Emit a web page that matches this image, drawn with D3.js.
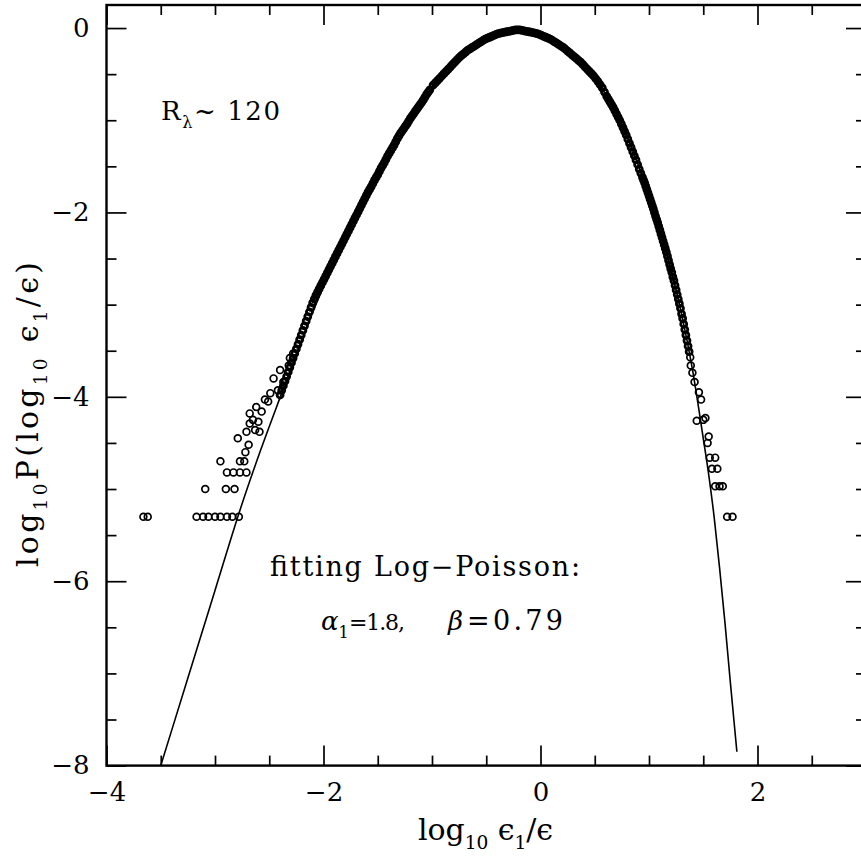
<!DOCTYPE html>
<html>
<head>
<meta charset="utf-8">
<script src="https://cdn.jsdelivr.net/npm/d3@7"></script>
<style>
  html, body { margin: 0; background: #fff; }
  svg { display: block; }
  text { font-family: "DejaVu Serif", "Liberation Serif", serif; fill: #000; }
</style>
</head>
<body>
<svg id="chart" width="861" height="856"></svg>
<script>
// tick positions
const xMajor = [-4, -2, 0, 2];
const xMinor = [-3.5, -3, -2.5, -1.5, -1, -0.5, 0.5, 1, 1.5, 2.5];
const yMajor = [0, -2, -4, -6, -8];
const yMinor = [-0.5, -1, -1.5, -2.5, -3, -3.5, -4.5, -5, -5.5, -6.5, -7, -7.5];

// log-Poisson fit (solid line), [log10 eps_l/eps, log10 P]
const fitCurve = [
  [-3.50, -8.0], [-3.25, -7.05], [-3.0, -6.1], [-2.77, -5.23], [-2.58, -4.58], [-2.385, -3.96],
  [-2.2, -3.38], [-2.0, -2.8], [-1.8, -2.27], [-1.6, -1.81], [-1.4, -1.39], [-1.2, -1.0],
  [-1.0, -0.65], [-0.8, -0.37], [-0.6, -0.18], [-0.4, -0.07], [-0.2, -0.02], [0.0, -0.07],
  [0.2, -0.2], [0.4, -0.4], [0.6, -0.72], [0.8, -1.18], [1.0, -1.82], [1.1, -2.19],
  [1.2, -2.61], [1.3, -3.1], [1.4, -3.7], [1.5, -4.45], [1.55, -4.84], [1.6, -5.3],
  [1.65, -5.85], [1.7, -6.45], [1.75, -7.1], [1.81, -7.85]
];

// measured pdf, the dense core of the distribution
const coreBand = [
  [-2.40, -3.98], [-2.37, -3.88], [-2.34, -3.78], [-2.31, -3.68], [-2.28, -3.58], [-2.25, -3.48],
  [-2.22, -3.38], [-2.19, -3.28], [-2.16, -3.18], [-2.13, -3.08], [-2.10, -2.98], [-2.07, -2.90],
  [-2.04, -2.83], [-2.01, -2.76], [-1.98, -2.69], [-1.95, -2.62], [-1.92, -2.55], [-1.89, -2.48],
  [-1.86, -2.41], [-1.83, -2.34], [-1.80, -2.27], [-1.77, -2.20], [-1.74, -2.13], [-1.71, -2.06],
  [-1.68, -1.99], [-1.65, -1.92], [-1.62, -1.85], [-1.59, -1.78], [-1.56, -1.72], [-1.53, -1.65],
  [-1.50, -1.59], [-1.47, -1.52], [-1.44, -1.46], [-1.41, -1.39], [-1.38, -1.33], [-1.35, -1.27],
  [-1.32, -1.20], [-1.29, -1.14], [-1.26, -1.09], [-1.23, -1.04], [-1.20, -0.98], [-1.17, -0.93],
  [-1.14, -0.88], [-1.11, -0.83], [-1.08, -0.78], [-1.05, -0.72], [-1.02, -0.67], [-0.99, -0.62],
  [-0.95, -0.57], [-0.91, -0.52], [-0.87, -0.47], [-0.83, -0.42], [-0.79, -0.37], [-0.75, -0.32],
  [-0.71, -0.28], [-0.67, -0.24], [-0.63, -0.21], [-0.59, -0.18], [-0.55, -0.15], [-0.51, -0.12],
  [-0.47, -0.10], [-0.43, -0.08], [-0.39, -0.06], [-0.35, -0.05], [-0.31, -0.04], [-0.27, -0.03],
  [-0.23, -0.02], [-0.19, -0.02], [-0.15, -0.03], [-0.11, -0.04], [-0.07, -0.05], [-0.03, -0.06],
  [0.01, -0.08], [0.05, -0.10], [0.09, -0.12], [0.13, -0.15], [0.17, -0.18], [0.21, -0.21],
  [0.25, -0.25], [0.29, -0.29], [0.33, -0.33], [0.37, -0.37], [0.41, -0.42], [0.45, -0.47],
  [0.49, -0.52], [0.53, -0.58], [0.57, -0.65], [0.61, -0.74], [0.64, -0.80], [0.67, -0.86],
  [0.70, -0.93], [0.73, -1.00], [0.76, -1.08], [0.79, -1.16], [0.82, -1.25], [0.85, -1.34],
  [0.88, -1.43], [0.91, -1.53], [0.94, -1.62], [0.96, -1.68], [0.98, -1.75], [1.00, -1.82],
  [1.02, -1.89], [1.04, -1.96], [1.06, -2.04], [1.08, -2.11], [1.10, -2.19], [1.12, -2.27],
  [1.14, -2.35], [1.16, -2.43], [1.18, -2.52], [1.20, -2.61], [1.21, -2.65], [1.22, -2.70],
  [1.23, -2.74], [1.24, -2.79], [1.25, -2.84], [1.26, -2.89], [1.27, -2.94], [1.28, -2.99],
  [1.29, -3.04], [1.30, -3.10], [1.31, -3.15], [1.32, -3.21], [1.33, -3.27], [1.34, -3.33],
  [1.35, -3.39], [1.36, -3.45], [1.37, -3.51]
];

// second, interleaved set of bins along the core
const coreInterleaved = [
  [-2.385, -3.93], [-2.355, -3.83], [-2.325, -3.73], [-2.295, -3.63], [-2.265, -3.53], [-2.235, -3.43],
  [-2.205, -3.33], [-2.175, -3.23], [-2.145, -3.13], [-2.115, -3.03], [-2.085, -2.94], [-2.055, -2.865],
  [-2.025, -2.795], [-1.995, -2.725], [-1.965, -2.655], [-1.935, -2.585], [-1.905, -2.515], [-1.875, -2.445],
  [-1.845, -2.375], [-1.815, -2.305], [-1.785, -2.235], [-1.755, -2.165], [-1.725, -2.095], [-1.695, -2.025],
  [-1.665, -1.955], [-1.635, -1.885], [-1.605, -1.815], [-1.575, -1.75], [-1.545, -1.685], [-1.515, -1.62],
  [-1.485, -1.555], [-1.455, -1.49], [-1.425, -1.425], [-1.395, -1.36], [-1.365, -1.30], [-1.335, -1.235],
  [-1.305, -1.17], [-1.275, -1.115], [-1.245, -1.065], [-1.215, -1.01], [-1.185, -0.955], [-1.155, -0.905],
  [-1.125, -0.855], [-1.095, -0.805], [-1.065, -0.75], [-1.035, -0.695],
  [-0.97, -0.595], [-0.93, -0.545], [-0.89, -0.495], [-0.85, -0.445], [-0.81, -0.395], [-0.77, -0.345],
  [-0.73, -0.30], [-0.69, -0.26], [-0.65, -0.225], [-0.61, -0.195], [-0.57, -0.165], [-0.53, -0.135],
  [-0.49, -0.11], [-0.45, -0.09], [-0.41, -0.07], [-0.37, -0.055], [-0.33, -0.045], [-0.29, -0.035],
  [-0.25, -0.025], [-0.21, -0.02], [-0.17, -0.025], [-0.13, -0.035], [-0.09, -0.045], [-0.05, -0.055],
  [-0.01, -0.07], [0.03, -0.09], [0.07, -0.11], [0.11, -0.135], [0.15, -0.165], [0.19, -0.195],
  [0.23, -0.23], [0.27, -0.27], [0.31, -0.31], [0.35, -0.35], [0.39, -0.395], [0.43, -0.445],
  [0.47, -0.495], [0.51, -0.55], [0.55, -0.615], [0.59, -0.695],
  [0.625, -0.77], [0.655, -0.83], [0.685, -0.895], [0.715, -0.965], [0.745, -1.04], [0.775, -1.12],
  [0.805, -1.205], [0.835, -1.295], [0.865, -1.385], [0.895, -1.48], [0.925, -1.575], [0.95, -1.65],
  [0.97, -1.715], [0.99, -1.785], [1.01, -1.855], [1.03, -1.925], [1.05, -2.00], [1.07, -2.075],
  [1.09, -2.15], [1.11, -2.23], [1.13, -2.31], [1.15, -2.39], [1.17, -2.475], [1.19, -2.565]
];

// sparse tails where counts are low
const leftTail = [
  [-2.28, -3.53], [-2.31, -3.58], [-2.32, -3.66], [-2.40, -3.71], [-2.46, -3.80], [-2.37, -3.84],
  [-2.42, -3.93], [-2.49, -3.96], [-2.54, -4.03], [-2.51, -4.05], [-2.62, -4.11], [-2.68, -4.18],
  [-2.57, -4.16], [-2.65, -4.25], [-2.60, -4.27], [-2.68, -4.29], [-2.71, -4.38], [-2.63, -4.36],
  [-2.59, -4.38], [-2.79, -4.45], [-2.69, -4.52], [-2.72, -4.60], [-2.95, -4.70], [-2.77, -4.70],
  [-2.73, -4.70], [-2.89, -4.82], [-2.83, -4.82], [-2.77, -4.82], [-2.71, -4.82], [-3.09, -5.00],
  [-2.90, -5.00], [-2.82, -5.00], [-3.66, -5.30], [-3.62, -5.30], [-3.17, -5.30], [-3.11, -5.30],
  [-3.06, -5.30], [-3.00, -5.30], [-2.95, -5.30], [-2.89, -5.30], [-2.84, -5.30], [-2.78, -5.30]
];
const rightTail = [
  [1.38, -3.57], [1.385, -3.66], [1.40, -3.74], [1.42, -3.84], [1.46, -3.95], [1.48, -4.03],
  [1.44, -4.26], [1.50, -4.25], [1.52, -4.23], [1.55, -4.43], [1.54, -4.50], [1.56, -4.66],
  [1.61, -4.66], [1.58, -4.78], [1.63, -4.78], [1.61, -4.97], [1.65, -4.97], [1.68, -4.97],
  [1.72, -5.30], [1.77, -5.30]
];

const svg = d3.select('#chart');
const x = d3.scaleLinear().domain([-4, 3]).range([106.5, 866]);
const y = d3.scaleLinear().domain([-8, 0.25]).range([765.6, 5]);

svg.append('defs').append('clipPath').attr('id', 'plot')
  .append('rect').attr('x', x(-4)).attr('y', y(0.25)).attr('width', x(3) - x(-4)).attr('height', y(-8) - y(0.25));

// inward ticks on all four sides; labels only bottom and left
function side(axis, transform, values, size, labels, pad) {
  const g = svg.append('g').attr('transform', transform)
    .call(axis.tickValues(values).tickSize(size).tickSizeOuter(0).tickPadding(pad)
      .tickFormat(labels ? d3.format('d') : () => ''));
  g.select('.domain').remove();
  g.selectAll('line').attr('stroke', '#000').attr('stroke-width', 1.7);
  g.selectAll('text').attr('font-family', '"DejaVu Serif", serif').attr('font-size', 26).attr('fill', '#000');
  return g;
}
const atBottom = `translate(0,${y(-8)})`, atTop = `translate(0,${y(0.25)})`;
const atLeft = `translate(${x(-4)},0)`, atRight = `translate(${x(3)},0)`;
side(d3.axisBottom(x), atBottom, xMajor, -20, true, 17);
side(d3.axisBottom(x), atBottom, xMinor, -10, false, 0);
side(d3.axisTop(x), atTop, xMajor, -20, false, 0);
side(d3.axisTop(x), atTop, xMinor, -10, false, 0);
side(d3.axisLeft(y), atLeft, yMajor, -20, true, 17);
side(d3.axisLeft(y), atLeft, yMinor, -10, false, 0);
side(d3.axisRight(y), atRight, yMajor, -20, false, 0);
side(d3.axisRight(y), atRight, yMinor, -10, false, 0);

svg.append('rect').attr('x', x(-4)).attr('y', y(0.25)).attr('width', x(3) - x(-4)).attr('height', y(-8) - y(0.25))
  .attr('fill', 'none').attr('stroke', '#000').attr('stroke-width', 2.4);

const plot = svg.append('g').attr('clip-path', 'url(#plot)');
const line = d3.line().x((d) => x(d[0])).y((d) => y(d[1])).curve(d3.curveMonotoneX);
plot.append('path').datum(fitCurve).attr('d', line).attr('fill', 'none').attr('stroke', '#000').attr('stroke-width', 1.6);

// core bins overlap so much that their rings merge into a solid band
plot.selectAll('circle.core').data(coreBand.concat(coreInterleaved)).join('circle')
  .attr('class', 'core')
  .attr('cx', (d) => x(d[0])).attr('cy', (d) => y(d[1])).attr('r', 3.0)
  .attr('fill', 'none').attr('stroke', '#000').attr('stroke-width', 2.8);

plot.selectAll('circle.tail').data(leftTail.concat(rightTail)).join('circle')
  .attr('class', 'tail')
  .attr('cx', (d) => x(d[0])).attr('cy', (d) => y(d[1])).attr('r', 3.4)
  .attr('fill', 'none').attr('stroke', '#000').attr('stroke-width', 1.7);

// text with subscripts, optionally stretched to the measured width
function rich(parent, x0, y0, parts, size, length) {
  const t = parent.append('text').attr('x', x0).attr('y', y0).attr('font-size', size);
  let shift = 0;
  parts.forEach(([s, kind]) => {
    const span = t.append('tspan').text(s);
    const want = kind === 'sub' ? size * 0.3 : 0;
    if (want !== shift) span.attr('dy', want - shift);
    shift = want;
    if (kind === 'sub') span.attr('font-size', size * 0.62);
    if (kind === 'it') span.attr('font-style', 'italic');
  });
  if (length) t.attr('textLength', length).attr('lengthAdjust', 'spacing');
  return t;
}

rich(svg, 161, 120, [['R'], ['λ', 'sub'], ['~ 120']], 26, 119);
rich(svg, 270, 576, [['fitting Log−Poisson:']], 27, 310);
rich(svg, 321, 630, [['α', 'it'], ['1', 'sub']], 26);
rich(svg, 349, 630, [['=1.8,']], 22, 56);
rich(svg, 448, 630, [['β', 'it']], 26);
rich(svg, 467, 630, [['=0.79']], 27, 96);
rich(svg, 418, 840, [['log'], ['10', 'sub'], [' ϵ'], ['1', 'sub'], ['/ϵ']], 30, 135);
rich(svg.append('g').attr('transform', 'translate(38,567) rotate(-90)'), 0, 0,
  [['log'], ['10', 'sub'], ['P(log'], ['10', 'sub'], [' ϵ'], ['1', 'sub'], ['/ϵ)']], 30, 305);
</script>
</body>
</html>
